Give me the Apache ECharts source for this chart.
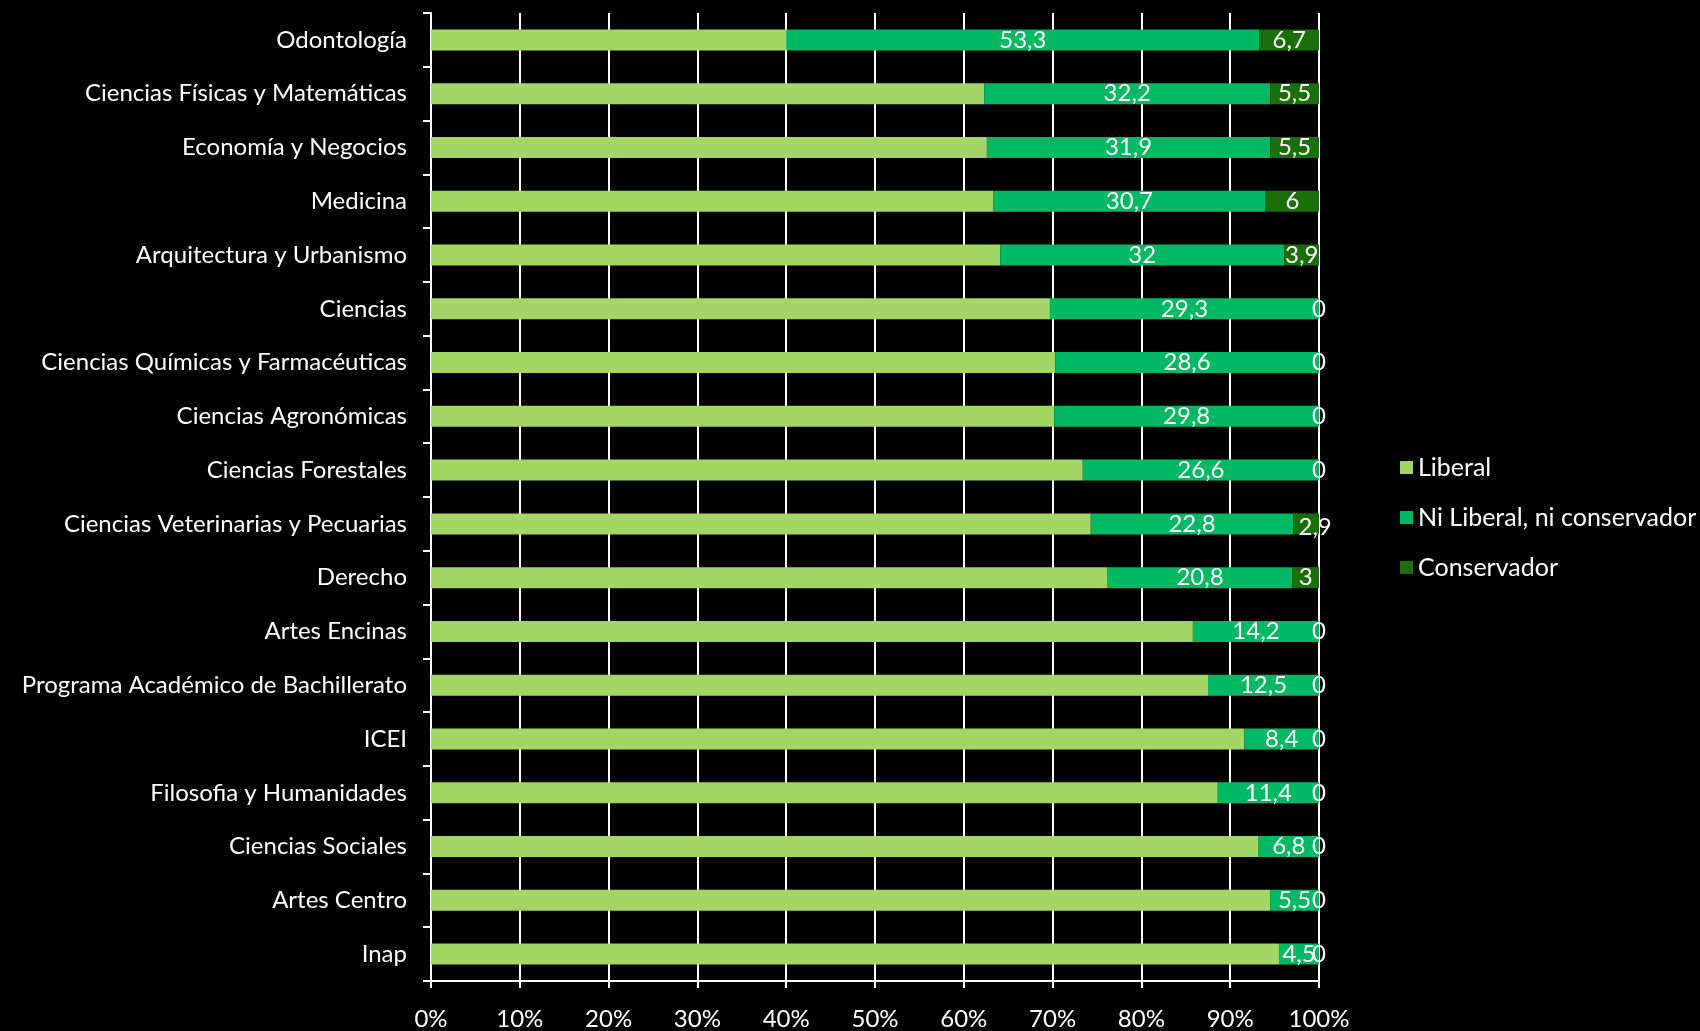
<!DOCTYPE html>
<html>
<head>
<meta charset="utf-8">
<script src="https://cdn.jsdelivr.net/npm/echarts@6/dist/echarts.min.js"></script>
<style>
  html, body { margin: 0; padding: 0; background: #000; }
  #chart { width: 1700px; height: 1031px; }
</style>
</head>
<body>
<div id="chart"></div>
<script>
var categories = ['Odontología', 'Ciencias Físicas y Matemáticas', 'Economía y Negocios', 'Medicina',
  'Arquitectura y Urbanismo', 'Ciencias', 'Ciencias Químicas y Farmacéuticas', 'Ciencias Agronómicas',
  'Ciencias Forestales', 'Ciencias Veterinarias y Pecuarias', 'Derecho', 'Artes Encinas',
  'Programa Académico de Bachillerato', 'ICEI', 'Filosofia y Humanidades', 'Ciencias Sociales',
  'Artes Centro', 'Inap'];
var liberal = [40, 62.3, 62.6, 63.3, 64.1, 67.4, 67.7, 70.2, 73.4, 74.3, 76.2, 85.8, 87.5, 91.6, 88.6, 93.2, 94.5, 95.5];
var niLiberal = [53.3, 32.2, 31.9, 30.7, 32, 29.3, 28.6, 29.8, 26.6, 22.8, 20.8, 14.2, 12.5, 8.4, 11.4, 6.8, 5.5, 4.5];
var conservador = [6.7, 5.5, 5.5, 6, 3.9, 0, 0, 0, 0, 2.9, 3, 0, 0, 0, 0, 0, 0, 0];

var fontFamily = 'Lato, "Open Sans", sans-serif';
var colors = ['#a3d665', '#00b962', '#1b6f0a'];

// 100% apilado: cada fila se normaliza a su total
function share(arr, i) {
  var total = liberal[i] + niLiberal[i] + conservador[i];
  return { value: arr[i] / total * 100, raw: arr[i] };
}
function build(arr) {
  return categories.map(function (c, i) { return share(arr, i); });
}
function fmt(p) {
  return String(p.data.raw).replace('.', ',');
}
var valueLabel = {
  show: true, position: 'inside', color: '#fff', fontSize: 24,
  fontFamily: fontFamily, padding: [7, 0, 0, 0], formatter: fmt
};

var chart = echarts.init(document.getElementById('chart'));
var consData = build(conservador);
// la etiqueta 2,9 sale desplazada en el original
consData[9].label = { offset: [9, 3] };

var option = {
  backgroundColor: '#000',
  color: colors,
  animation: false,
  textStyle: { fontFamily: fontFamily },
  legend: {
    orient: 'vertical',
    left: 1395,
    top: 450,
    itemWidth: 13,
    itemHeight: 13,
    itemGap: 25,
    icon: 'rect',
    textStyle: { color: '#fff', fontSize: 25, fontFamily: fontFamily },
    data: ['Liberal', 'Ni Liberal, ni conservador', 'Conservador']
  },
  grid: { left: 431, right: 381, top: 13, bottom: 48 },
  xAxis: {
    type: 'value',
    min: 0,
    max: 100,
    interval: 10,
    axisLine: { show: true, lineStyle: { color: '#fff', width: 2 } },
    axisTick: { show: true, length: 7, lineStyle: { color: '#fff', width: 2 } },
    splitLine: { show: true, lineStyle: { color: '#fff', width: 2 } },
    axisLabel: {
      color: '#fff', fontSize: 24, margin: 26, fontFamily: fontFamily,
      formatter: '{value}%'
    }
  },
  yAxis: {
    type: 'category',
    inverse: true,
    data: categories,
    axisLine: { show: true, lineStyle: { color: '#fff', width: 2 } },
    axisTick: { show: true, length: 8, lineStyle: { color: '#fff', width: 2 } },
    axisLabel: { color: '#fff', fontSize: 24, margin: 24, fontFamily: fontFamily, padding: [9, 0, 0, 0] }
  },
  series: [
    {
      name: 'Liberal',
      type: 'bar',
      stack: 'total',
      barWidth: '39%',
      data: build(liberal)
    },
    {
      name: 'Ni Liberal, ni conservador',
      type: 'bar',
      stack: 'total',
      barWidth: '39%',
      label: valueLabel,
      data: build(niLiberal)
    },
    {
      name: 'Conservador',
      type: 'bar',
      stack: 'total',
      barWidth: '39%',
      label: valueLabel,
      data: consData
    }
  ]
};
chart.setOption(option);
</script>
</body>
</html>
